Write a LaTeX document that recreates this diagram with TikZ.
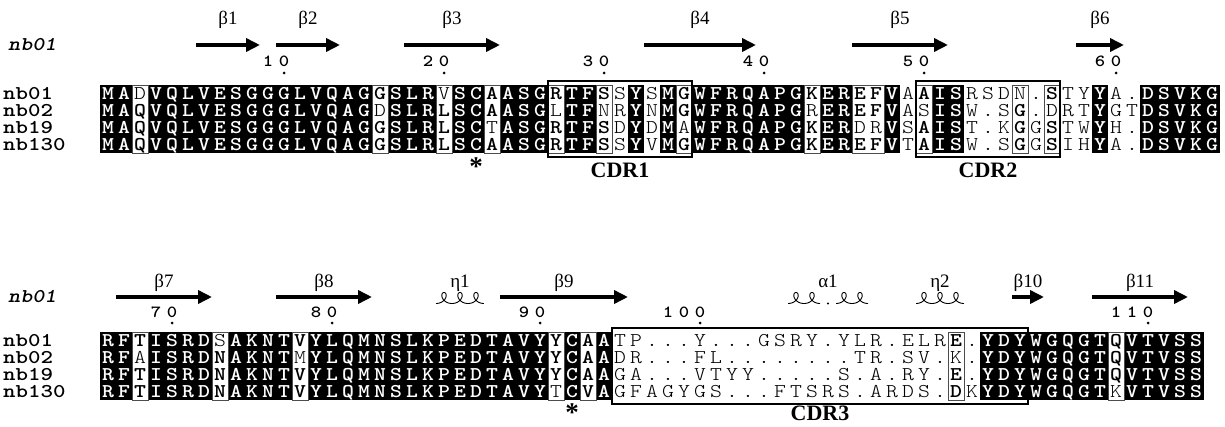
\documentclass[tikz,border=0pt]{standalone}
\usepackage{fontspec}
\setmainfont{Liberation Serif}
\newfontfamily\seqbf{lmmonolt10-bold}[Extension=.otf,FakeStretch=1.16]
\newfontfamily\namebf{lmmonolt10-bold}[Extension=.otf,FakeStretch=1.22]
\newfontfamily\seqrm{lmmonolt10-regular}[Extension=.otf,FakeStretch=1.16]
\newfontfamily\seqbi{lmmonolt10-boldoblique}[Extension=.otf,FakeStretch=1.18]
\usetikzlibrary{arrows.meta}
\newcount\colno
\def\rowh{17}
\newcommand\seqsize{\fontsize{19.5}{19.5}\selectfont}
\def\rowwalk#1#2\relax#3#4\relax{%
  \global\advance\colno by 1
  \drawcell{#1}{#3}%
  \ifx\relax#2\relax\else\rowwalk#2\relax#4\relax\fi}
\def\drawcell#1#2{%
  \pgfmathsetmacro\cx{100+(\the\colno-0.5)*16}%
  \if B#2\relax
    \fill[black] (\cx-8,\rowtop) rectangle (\cx+8,\rowtop+\rowh);
    \node[res,text=white,font=\seqsize\seqbf] at (\cx,\rowbase) {#1};
  \else
    \if b#2\relax
      \node[res,font=\seqsize\seqbf] at (\cx,\rowbase) {#1};
    \else
      \node[res,font=\seqsize\seqrm] at (\cx,\rowbase) {#1};
    \fi
  \fi}
\newcommand\seqrow[3]{% row index, name, {seq}{mask}
  \pgfmathsetmacro\rowtop{\rowT+(#1-1)*\rowh}\pgfmathsetmacro\rowbase{\rowtop+14.3}%
  \node[namelab] at (3,\rowbase) {#2};
  \global\colno=0
  \rowwalkA#3}
\def\rowwalkA#1#2{\rowwalk#1\relax#2\relax}
\newcommand\simbox[2]{\draw[simfr] ({100+(#1-1)*16},\rowT) rectangle ({100+#2*16},\rowT+4*\rowh);}
\newcommand\cdrbox[2]{\draw[cdrfr] ({100+(#1-1)*16},\rowT-4) rectangle ({100+#2*16},\rowT+4+4*\rowh);}
\newcommand\sheet[3]{%
  \draw[sarrow] ({100+(#1-1)*16},\arrY) -- ({100+#2*16},\arrY);
  \node[sslab] at ({100+(#1+#2-1)*8},\labY) {#3};}
\newcommand\coil[2]{% start col, loops
  \pgfmathsetmacro\tmax{#2*6.28319}%
  \pgfmathsetmacro\xs{100+(#1-1)*16}%
  \draw[coilst] plot[domain=0:\tmax,samples=150,smooth] ({\xs+2.546*\x+5.6*sin(\x r)},{\arrY+1+5.5*cos(\x r)});}
\newcommand\hlab[3]{\node[sslab] at ({100+(#1+#2-1)*8},\labY) {#3};}
\newcommand\dig[2]{\node[digit] at ({100+(#1-0.5)*16},\digY) {#2};}
\newcommand\dotat[1]{\fill ({100+(#1-0.5)*16},\dotY) circle (1.5);}
\newcommand\rn[3]{\dig{#1-1}{#2}\dig{#1}{#3}\dotat{#1}}
\newcommand\rnn[4]{\dig{#1-2}{#2}\dig{#1-1}{#3}\dig{#1}{#4}\dotat{#1}}
\newcommand\starat[1]{\node[starst] at ({100+(#1-0.5)*16},\starY) {*};}
\newcommand\cdrlabel[3]{\node[cdrlab] at ({100+(#1+#2-1)*8},\cdrY) {#3};}
\begin{document}
\begin{tikzpicture}[x=1pt,y=-1pt,
 res/.style={anchor=base,inner sep=0pt,outer sep=0pt},
 simfr/.style={draw=black!70,line width=0.7pt},
 cdrfr/.style={draw=black,line width=1.5pt},
 sarrow/.style={line width=4.8pt,-{Triangle[length=14pt,width=13pt]}},
 sslab/.style={anchor=base,inner sep=0pt,font=\fontsize{19}{19}\selectfont},
 digit/.style={anchor=base,inner sep=0pt,font=\fontsize{17}{17}\selectfont\seqbf},
 coilst/.style={line width=0.9pt},
 cdrlab/.style={anchor=base,inner sep=0pt,font=\fontsize{22}{22}\selectfont\bfseries},
 starst/.style={anchor=base,inner sep=0pt,font=\fontsize{27}{27}\selectfont\bfseries},
 namelab/.style={anchor=base west,inner sep=0pt,font=\seqsize\namebf},
 toplab/.style={anchor=base west,inner sep=0pt,font=\seqsize\seqbi}]
\useasboundingbox (0,0) rectangle (1225,427);
% ---------------- block 1 ----------------
\def\labY{25}\def\arrY{45}\def\digY{67}\def\dotY{73}\def\rowT{85}\def\starY{176}\def\cdrY{178}
\node[toplab] at (8,\arrY+6) {nb01};
\sheet{7}{10}{β1}\sheet{12}{15}{β2}\sheet{20}{25}{β3}\sheet{35}{41}{β4}\sheet{48}{53}{β5}\sheet{62}{64}{β6}
\rn{12}{1}{0}\rn{22}{2}{0}\rn{32}{3}{0}\rn{42}{4}{0}\rn{52}{5}{0}\rn{64}{6}{0}
\seqrow{1}{nb01}{{MADVQLVESGGGLVQAGGSLRVSCAASGRTFSSYSMGWFRQAPGKEREFVAAISRSDN.STYYA.DSVKG}{BBnBBBBBBBBBBBBBBbBBBnBBbBBBbBBbnBnBbBBBBBBBbBBbbBnbBBnnnnnbnnBnnBBBBB}}
\seqrow{2}{nb02}{{MAQVQLVESGGGLVQAGDSLRLSCAASGLTFNRYNMGWFRQAPGREREFVASISW.SG.DRTYGTDSVKG}{BBbBBBBBBBBBBBBBBnBBBbBBbBBBnBBnnBnBbBBBBBBBnBBbbBnnBBnnnbnnnnBnnBBBBB}}
\seqrow{3}{nb19}{{MAQVQLVESGGGLVQAGGSLRLSCTASGRTFSDYDMAWFRQAPGKERDRVSAIST.KGGSTWYH.DSVKG}{BBbBBBBBBBBBBBBBBbBBBbBBnBBBbBBbnBnBnBBBBBBBbBBnnBnbBBnnnbnbnnBnnBBBBB}}
\seqrow{4}{nb130}{{MAQVQLVESGGGLVQAGGSLRLSCAASGRTFSSYVMGWFRQAPGKEREFVTAISW.SGGSIHYA.DSVKG}{BBbBBBBBBBBBBBBBBbBBBbBBbBBBbBBbnBnBbBBBBBBBbBBbbBnbBBnnnbnbnnBnnBBBBB}}
\simbox{3}{3}\simbox{18}{18}\simbox{22}{22}\simbox{25}{25}\simbox{29}{29}\simbox{32}{32}\simbox{37}{37}
\simbox{45}{45}\simbox{48}{49}\simbox{52}{52}\simbox{58}{58}\simbox{60}{60}
\cdrbox{29}{37}\cdrbox{52}{60}
\starat{24}
\cdrlabel{29}{37}{CDR1}\cdrlabel{52}{60}{CDR2}
% ---------------- block 2 ----------------
\def\labY{288}\def\arrY{297}\def\digY{317}\def\dotY{323}\def\rowT{332}\def\starY{421}\def\cdrY{420}
\node[toplab] at (8,\arrY+6) {nb01};
\sheet{2}{7}{β7}\sheet{12}{17}{β8}\sheet{26}{33}{β9}\sheet{58}{59}{β10}\sheet{63}{68}{β11}
\coil{22}{3}\hlab{22}{24}{η1}
\coil{44}{2}\fill ({100+45.5*16},\arrY+6.5) circle (1.2);\coil{47}{2}\hlab{44}{48}{α1}
\coil{52}{3}\hlab{52}{54}{η2}
\rn{5}{7}{0}\rn{15}{8}{0}\rn{28}{9}{0}\rnn{38}{1}{0}{0}\rnn{66}{1}{1}{0}
\seqrow{1}{nb01}{{RFTISRDSAKNTVYLQMNSLKPEDTAVYYCAATP...Y...GSRY.YLR.ELRE.YDYWGQGTQVTVSS}{BBbBBBBnBBBBbBBBBBBBBBBBBBBBbBbBnnnnnnnnnnnnnnnnnnnnnbnBBBBBBBBbBBBBB}}
\seqrow{2}{nb02}{{RFAISRDNAKNTMYLQMNSLKPEDTAVYYCAADR...FL........TR.SV.K.YDYWGQGTQVTVSS}{BBnBBBBbBBBBnBBBBBBBBBBBBBBBbBbBnnnnnnnnnnnnnnnnnnnnnnnBBBBBBBBbBBBBB}}
\seqrow{3}{nb19}{{RFTISRDNAKNTVYLQMNSLKPEDTAVYYCAAGA...VTYY.....S.A.RY.E.YDYWGQGTQVTVSS}{BBbBBBBbBBBBbBBBBBBBBBBBBBBBbBbBnnnnnnnnnnnnnnnnnnnnnbnBBBBBBBBbBBBBB}}
\seqrow{4}{nb130}{{RFTISRDNAKNTVYLQMNSLKPEDTAVYTCVAGFAGYGS...FTSRS.ARDS.DKYDYWGQGTKVTVSS}{BBbBBBBbBBBBbBBBBBBBBBBBBBBBnBbBnnnnnnnnnnnnnnnnnnnnnbnBBBBBBBBnBBBBB}}
\simbox{3}{3}\simbox{8}{8}\simbox{13}{13}\simbox{29}{29}\simbox{31}{31}\simbox{54}{54}\simbox{64}{64}
\cdrbox{33}{58}
\starat{30}
\cdrlabel{33}{58}{CDR3}
\end{tikzpicture}
\end{document}
